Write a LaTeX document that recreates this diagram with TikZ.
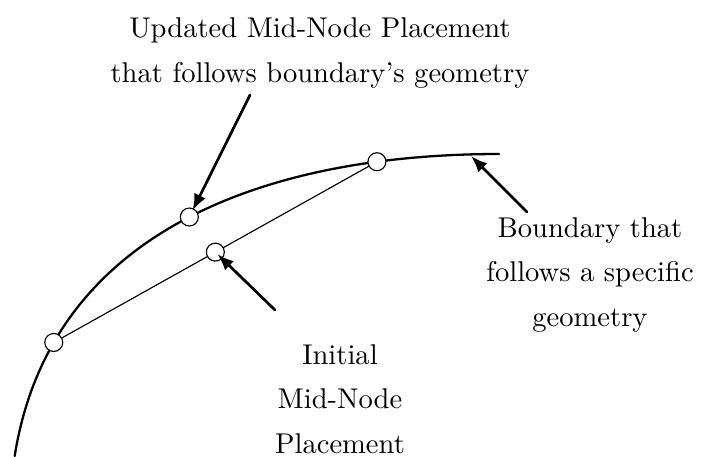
\documentclass[tikz,border=0pt]{standalone}
\usetikzlibrary{arrows.meta,calc}
\tikzset{
  meshnode/.style={circle, draw, fill=white, inner sep=0pt, minimum size=6.3pt, line width=0.4pt},
  callout/.style={-{Latex[length=5.8pt,width=4.4pt]}, line width=0.95pt},
  note/.style={align=center, font={\fontsize{10}{15.6}\selectfont}}
}
\begin{document}
\begin{tikzpicture}[x=0.35pt, y=-0.35pt, line join=round, line cap=round]
  \useasboundingbox (0,0) rectangle (701,456);
  % boundary curve with the three nodes on it
  \draw[line width=0.8pt] (14.7,456) .. controls (50.6,228.8) and (269,154) .. (499,154)
    node[pos=0.19, meshnode] (a) {}
    node[pos=0.51, meshnode] (m) {}
    node[pos=0.82, meshnode] (c) {};
  % straight edge and its midpoint
  \draw[line width=0.4pt] (a) -- (c);
  \node[meshnode] (i) at ($(a.center)!0.5!(c.center)$) {};
  % labels
  \node[note] (upd) at (320,53) {Updated Mid-Node Placement\\that follows boundary's geometry};
  \node[note] (bnd) at (590,275) {Boundary that\\follows a specific\\geometry};
  \node[note] (ini) at (340,399) {Initial\\Mid-Node\\Placement};
  \coordinate (t1) at (250,95);
  \coordinate (t2) at (275,310);
  \coordinate (t3) at (527,212);
  \coordinate (h3) at (471,156);
  \draw[callout] (t1) -- ($(m.center)!2.5pt!(t1)$);
  \draw[callout] (t2) -- ($(i.center)!1pt!(t2)$);
  \draw[callout] (t3) -- (h3);
\end{tikzpicture}
\end{document}
